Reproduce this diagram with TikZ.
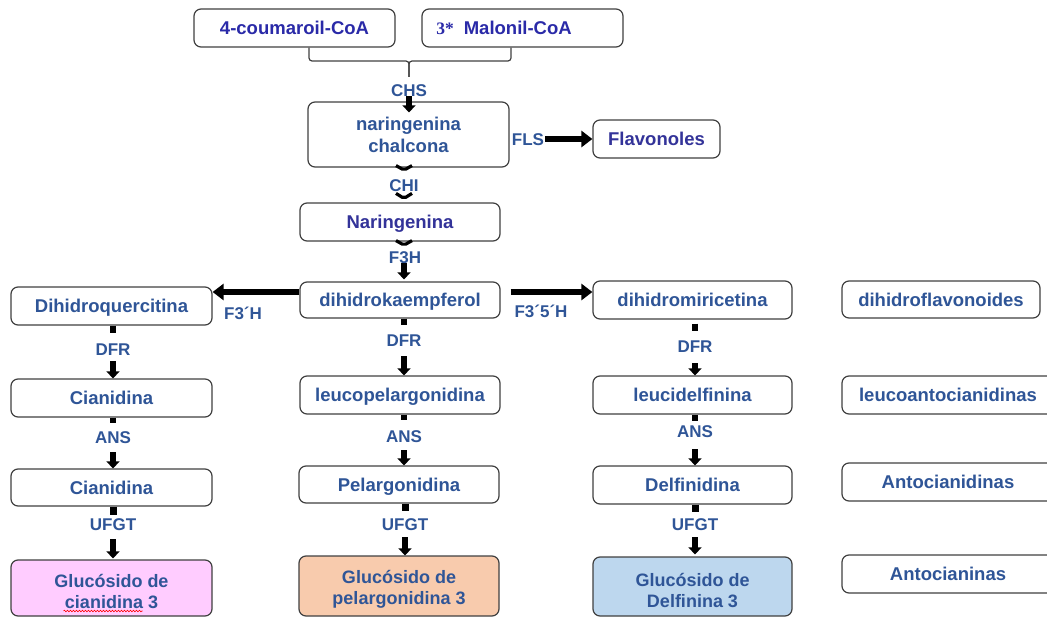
\documentclass[tikz,border=0pt]{standalone}
\usepackage{fontspec}
\setmainfont{Liberation Sans}
\newfontfamily\serifx{Liberation Serif}
\usetikzlibrary{arrows.meta,calc,decorations.pathmorphing}
\definecolor{txtblue}{HTML}{2F5597}
\definecolor{topblue}{HTML}{2A2AA8}
\definecolor{purpblue}{HTML}{333399}
\definecolor{boxline}{HTML}{404040}
\definecolor{pinkfill}{HTML}{FFCCFF}
\definecolor{peachfill}{HTML}{F8CBAD}
\definecolor{bluefill}{HTML}{BDD7EE}
\begin{document}
\begin{tikzpicture}[x=1pt,y=-1pt,
  box/.style={draw=boxline, line width=1.2pt, rounded corners=7pt, fill=white,
    font=\bfseries\fontsize{18.5}{22}\selectfont, text=txtblue, inner sep=0pt},
  one/.style={text height=13pt, text depth=0pt},
  two/.style={align=center},
  wh/.style 2 args={minimum width=#1, minimum height=#2},
  enz/.style={font=\bfseries\fontsize{17}{20}\selectfont, text=txtblue, inner sep=0pt,
    text height=12pt, text depth=0pt},
  stub/.style={line width=6pt},
  bigstub/.style={line width=7pt},
  varrow/.style={line width=5.5pt, -{Triangle[length=7pt,width=13pt]}},
  harrow/.style={line width=6.5pt, -{Triangle[length=11pt,width=16pt]}},
  bracket/.style={draw=boxline, line width=1.2pt, rounded corners=3pt},
  chev/.style={line width=3.2pt, line join=round, rounded corners=2pt}
]
\useasboundingbox (0,0) rectangle (1047,618);

% top row
\node[box,one,text=topblue,wh={201pt}{38pt}] (coum) at (294.5,28) {4-coumaroil-CoA};
\node[box,one,text=topblue,wh={201pt}{38pt}] (malo) at (522.5,28) {{\serifx\bfseries\fontsize{17.5}{20}\selectfont 3*}\hspace{10pt}Malonil-CoA\hspace*{37pt}};
\coordinate (brk) at (409,61);
\coordinate (brkend) at (409,77);
\draw[bracket] ([xshift=14.5pt]coum.south) |- (brk) -- (brkend);
\draw[bracket] ([xshift=-11.5pt]malo.south) |- (brk) -- (brkend);

\node[enz] (chs) at (409,90) {CHS};
\node[box,two,wh={201pt}{65pt}] (chal) at (408.5,134.5) {naringenina\\chalcona};
\draw[varrow] ($(chs.center |- chal.north)+(0,-5)$) -- ($(chs.center |- chal.north)+(0,11)$);

\node[enz] (fls) at (528,139) {FLS};
\node[box,one,text=purpblue,wh={127pt}{38pt}] (flav) at (656.5,139) {Flavonoles};
\draw[harrow] ([xshift=1pt]fls.east) -- (flav.west);

\node[enz] (chi) at (404,185) {CHI};
\node[box,one,text=purpblue,wh={200pt}{38pt}] (nari) at (400,222) {Naringenina};
\draw[chev] ($(chi.center |- chal.south)+(-8,-2)$) -- ($(chi.center |- chal.south)+(0,2.5)$) -- ($(chi.center |- chal.south)+(8,-2)$);
\draw[chev] ($(chi.center |- nari.north)+(-8,-9)$) -- ($(chi.center |- nari.north)+(0,-4)$) -- ($(chi.center |- nari.north)+(8,-9)$);
\draw[chev] ($(chi.center |- nari.south)+(-8,-1)$) -- ($(chi.center |- nari.south)+(0,3.5)$) -- ($(chi.center |- nari.south)+(8,-1)$);

\node[enz] (f3h) at (405,257) {F3H};
\node[box,one,wh={200pt}{36pt}] (dhk) at (400,300) {dihidrokaempferol};
\draw[varrow] ($(f3h.center |- dhk.north)+(-1,-18)$) -- ($(f3h.center |- dhk.north)+(-1,-2)$);

% dihydroflavonols row
\node[box,one,wh={201pt}{38pt}] (dhq) at (111.5,306) {Dihidroquercitina};
\node[box,one,wh={199pt}{38pt}] (dhm) at (692.5,300) {dihidromiricetina};
\node[box,one,wh={198pt}{37pt}] (dhf) at (941,299.5) {dihidroflavonoides};
\draw[harrow] ($(dhk.west)+(0,-8)$) -- ($(dhq.east)+(0,-14)$);
\draw[harrow] ($(dhk.east)+(10,-8)$) -- ($(dhm.west)+(0,-8)$);
\node[enz] (f3h1) at (243,313) {F3´H};
\node[enz] (f3h2) at (541,311) {F3´5´H};

% leuco row
\node[box,one,wh={201pt}{38pt}] (cia1) at (111.5,398) {Cianidina};
\node[box,one,wh={200pt}{38pt}] (leup) at (400,395) {leucopelargonidina};
\node[box,one,wh={199pt}{38pt}] (leud) at (692.5,395) {leucidelfinina};
\node[box,one,wh={212pt}{38pt}] (leua) at (948,395) {leucoantocianidinas};

\node[enz] (dfrL) at (113,349) {DFR};
\node[enz] (dfrM) at (404,340) {DFR};
\node[enz] (dfrR) at (695,346) {DFR};
\draw[stub] (dfrL.center |- dhq.south) -- ++(0,7);
\draw[stub] (dfrM.center |- dhk.south) -- ++(0,6);
\draw[stub] ($(dfrR.center |- dhm.south)+(0,4)$) -- ++(0,7);
\draw[varrow] ($(dfrL.center |- cia1.north)+(0,-17)$) -- (dfrL.center |- cia1.north);
\draw[varrow] ($(dfrM.center |- leup.north)+(0,-19)$) -- (dfrM.center |- leup.north);
\draw[varrow] ($(dfrR.center |- leud.north)+(0,-12)$) -- (dfrR.center |- leud.north);

% anthocyanidin row
\node[box,one,wh={201pt}{37pt}] (cia2) at (111.5,487.5) {Cianidina};
\node[box,one,wh={200pt}{37pt}] (pel) at (399,484.5) {Pelargonidina};
\node[box,one,wh={199pt}{38pt}] (del) at (692.5,485) {Delfinidina};
\node[box,one,wh={212pt}{38pt}] (antd) at (948,482) {Antocianidinas};

\node[enz] (ansL) at (113,437) {ANS};
\node[enz] (ansM) at (404,436) {ANS};
\node[enz] (ansR) at (695,431) {ANS};
\draw[stub] (ansL.center |- cia1.south) -- ++(0,5);
\draw[stub] (ansM.center |- leup.south) -- ++(0,5);
\draw[stub] (ansR.center |- leud.south) -- ++(0,6);
\draw[varrow] ($(ansL.center |- cia2.north)+(0,-16)$) -- (ansL.center |- cia2.north);
\draw[varrow] ($(ansM.center |- pel.north)+(0,-15)$) -- (ansM.center |- pel.north);
\draw[varrow] ($(ansR.center |- del.north)+(0,-16)$) -- (ansR.center |- del.north);

% glucoside row
\node[box,two,fill=pinkfill,font=\bfseries\fontsize{18}{21}\selectfont,wh={201pt}{56pt}] (gc) at (111.5,588) {\rule{0pt}{21pt}Glucósido de\\cianidina 3};
\node[box,two,fill=peachfill,font=\bfseries\fontsize{18}{21}\selectfont,wh={200pt}{60pt}] (gp) at (399,586) {\rule{0pt}{19pt}Glucósido de\\pelargonidina 3};
\node[box,two,fill=bluefill,font=\bfseries\fontsize{18}{21}\selectfont,wh={199pt}{59pt}] (gd) at (692.5,586.5) {\rule{0pt}{21pt}Glucósido de\\Delfinina 3};
\node[box,one,wh={212pt}{38pt}] (anti) at (948,574) {Antocianinas};
\draw[red, line width=0.6pt, decorate, decoration={snake,amplitude=0.8pt,segment length=3pt}]
  ($(gc.center)+(-48,23)$) -- ($(gc.center)+(31,23)$);

\node[enz] (ufL) at (113,524) {UFGT};
\node[enz] (ufM) at (405,524) {UFGT};
\node[enz] (ufR) at (695,524) {UFGT};
\draw[bigstub] (ufL.center |- cia2.south) -- ++(0,8);
\draw[bigstub] (ufM.center |- pel.south) -- ++(0,7);
\draw[bigstub] (ufR.center |- del.south) -- ++(0,7);
\draw[varrow] ($(ufL.center |- gc.north)+(0,-20)$) -- ($(ufL.center |- gc.north)+(0,-1)$);
\draw[varrow] ($(ufM.center |- gp.north)+(0,-18)$) -- (ufM.center |- gp.north);
\draw[varrow] ($(ufR.center |- gd.north)+(0,-19)$) -- ($(ufR.center |- gd.north)+(0,-2)$);
\end{tikzpicture}
\end{document}
